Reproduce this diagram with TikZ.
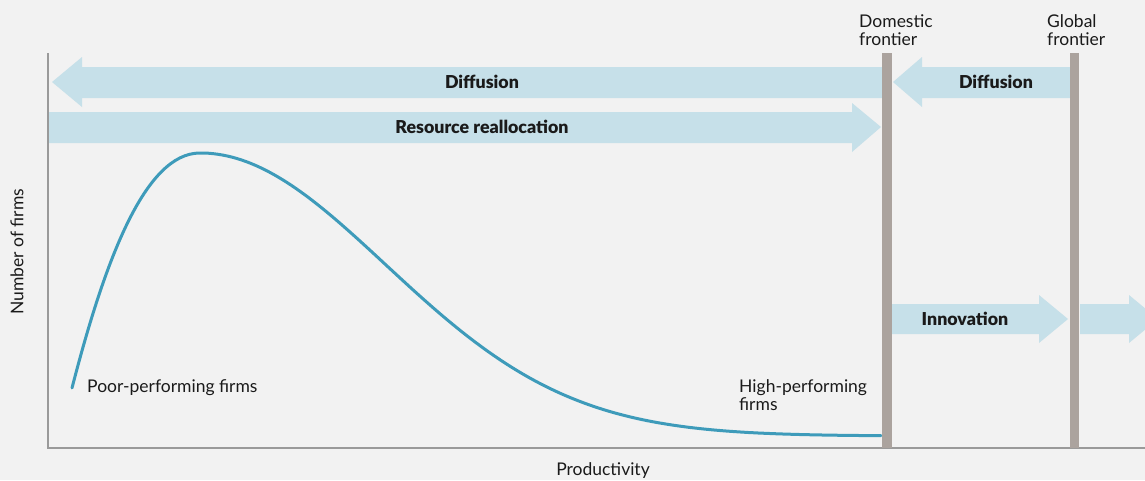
\documentclass[tikz,border=0pt]{standalone}
\usepackage{fontspec}
\IfFontExistsTF{Lato Black}{\setmainfont{Lato}[BoldFont={Lato Black}]}{\setmainfont{Lato}}
\definecolor{bgc}{HTML}{F2F2F2}
\definecolor{arrc}{HTML}{C6E0E9}
\definecolor{barc}{HTML}{ABA39E}
\definecolor{curvec}{HTML}{3E9BBA}
\definecolor{axisc}{HTML}{9A9A9A}
\definecolor{txtc}{HTML}{1A1A1A}
\tikzset{
  blockarrow/.style={fill=arrc, draw=none},
  frontierbar/.style={fill=barc, draw=none},
  lbl/.style={font=\fontsize{17.5}{18}\selectfont, text=txtc, inner sep=0pt},
  boldlbl/.style={font=\fontsize{17.8}{18}\selectfont\bfseries, text=txtc, inner sep=0pt},
}
\begin{document}
\begin{tikzpicture}[x=1pt,y=-1pt]
\useasboundingbox[fill=bgc] (0,0) rectangle (1145,480);
\begin{scope}
\clip (0,0) rectangle (1145,480);
% arrows
\fill[blockarrow] (52,82) -- (82,57) -- (82,67) -- (882,67) -- (882,98) -- (82,98) -- (82,107) -- cycle;
\fill[blockarrow] (48,112) -- (852,112) -- (852,103) -- (881,127) -- (852,152) -- (852,143) -- (48,143) -- cycle;
\fill[blockarrow] (893,82) -- (922,57) -- (922,67) -- (1070,67) -- (1070,98) -- (922,98) -- (922,107) -- cycle;
\fill[blockarrow] (892,304) -- (1039,304) -- (1039,295) -- (1068,319) -- (1039,343) -- (1039,334) -- (892,334) -- cycle;
\fill[blockarrow] (1080,304) -- (1129,304) -- (1129,295) -- (1158,319) -- (1129,343) -- (1129,334) -- (1080,334) -- cycle;
\end{scope}
% axes
\draw[axisc, line width=1.5pt] (48,53) -- (48,448) -- (1145,448);
% curve
\draw[curvec, line width=3pt, line cap=round, line join=round]
  (72,388) .. controls (105,260) and (145,153) .. (200,153)
  -- plot[domain=200:881, samples=150] (\x, {436-283*exp(-((\x-200)/262)^2)});
% frontier bars
\fill[frontierbar] (882,53) rectangle (892,448);
\fill[frontierbar] (1070,53) rectangle (1079,448);
% labels
\node[boldlbl] (diff1) at (482,82) {Diffusion};
\node[boldlbl] (realloc) at (482,127) {Resource reallocation};
\node[boldlbl] (diff2) at (996,82) {Diffusion};
\node[boldlbl] (innov) at (965,319) {Innovation};
\node[lbl, anchor=base west] (poor) at (87,392) {Poor-performing firms};
\node[lbl, anchor=base west, align=left] (high) at (739,410) {High-performing\\firms};
\node[lbl, anchor=base west, align=left] (dom) at (859,45) {Domestic\\frontier};
\node[lbl, anchor=base west, align=left] (glob) at (1047,45) {Global\\frontier};
\node[lbl, anchor=base] (prod) at (603,475) {Productivity};
\node[lbl, rotate=90] (nfirms) at (17,252) {Number of firms};
\end{tikzpicture}
\end{document}
